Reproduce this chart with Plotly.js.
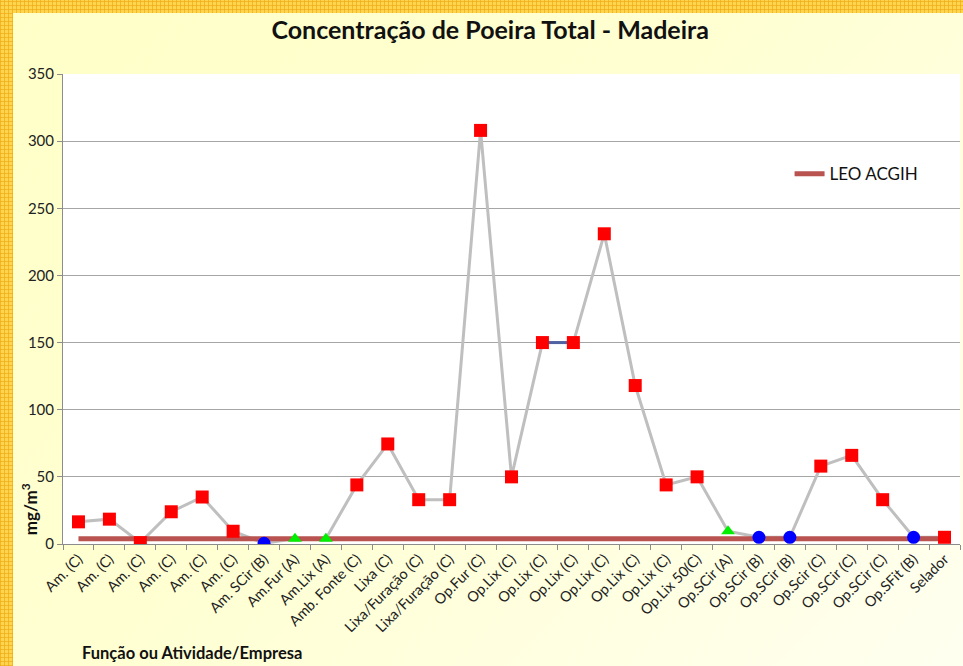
<!DOCTYPE html>
<html>
<head>
<meta charset="utf-8">
<script src="https://cdn.plot.ly/plotly-3.0.1.min.js"></script>
<style>
  html, body { margin:0; padding:0; }
  body { width:963px; height:666px; overflow:hidden; position:relative;
    background-color:#ffd54f;
    background-image:
      repeating-linear-gradient(0deg, rgba(240,170,20,0.7) 0 1px, transparent 1px 4px),
      repeating-linear-gradient(90deg, rgba(240,170,20,0.7) 0 1px, transparent 1px 4px);
  }
  #bg { position:absolute; left:13px; top:13px; right:0; bottom:0;
    background: linear-gradient(135deg, #ffffc8 0%, #ffffd2 45%, #fffff0 100%); }
  #chart { position:absolute; left:0; top:0; width:963px; height:666px; }
</style>
</head>
<body>
<div id="bg"></div>
<div id="chart"></div>
<script>
const labels = ["Am. (C)","Am. (C)","Am. (C)","Am. (C)","Am. (C)","Am. (C)","Am. SCir (B)","Am.Fur (A)","Am.Lix (A)","Amb. Fonte (C)","Lixa (C)","Lixa/Furação (C)","Lixa/Furação (C)","Op.Fur (C)","Op.Lix (C)","Op.Lix (C)","Op.Lix (C)","Op.Lix (C)","Op.Lix (C)","Op.Lix (C)","Op.Lix 50(C)","Op.SCir (A)","Op.SCir (B)","Op.SCir (B)","Op.Scir (C)","Op.SCir (C)","Op.SCir (C)","Op.SFit (B)","Selador"];
const values = [16.5,18.5,1,24,35,9.5,0.5,4,4,44,74.5,33,33,308,50,150,150,231,118,44,50,9.5,5,5,58,66,33,5,5];
const groups = ["C","C","C","C","C","C","B","A","A","C","C","C","C","C","C","C","C","C","C","C","C","A","B","B","C","C","C","B","C"];
const leoValue = 4;

const idx = labels.map((_, i) => i);
function pick(g) {
  const xs = [], ys = [];
  idx.forEach(i => { if (groups[i] === g) { xs.push(i); ys.push(values[i]); } });
  return {xs, ys};
}
const C = pick("C"), B = pick("B"), A = pick("A");
// blue connector between the two equal Op.Lix values
const segX = [15, 16], segY = [values[15], values[16]];

const traces = [
  {x: idx, y: values, mode: 'lines', line: {color: '#bfbfbf', width: 3}, showlegend: false, hoverinfo: 'skip'},
  {x: segX, y: segY, mode: 'lines', line: {color: '#4f61a0', width: 3}, showlegend: false},
  {x: idx, y: idx.map(() => leoValue), mode: 'lines', name: 'LEO ACGIH', line: {color: '#b9534f', width: 5}, showlegend: true},
  {x: C.xs, y: C.ys, mode: 'markers', marker: {symbol: 'square', size: 13, color: '#ff0000'}, showlegend: false},
  {x: B.xs, y: B.ys, mode: 'markers', marker: {symbol: 'circle', size: 13, color: '#0000ff'}, showlegend: false},
  {x: A.xs, y: A.ys, mode: 'markers', marker: {symbol: 'triangle-up', size: 12, color: '#00ee00'}, showlegend: false}
];

const layout = {
  width: 963, height: 666,
  margin: {l: 63, r: 3, t: 74, b: 122},
  paper_bgcolor: 'rgba(0,0,0,0)',
  plot_bgcolor: '#ffffff',
  font: {family: 'Lato, "Open Sans", sans-serif', color: '#222', size: 14},
  title: {text: '<b>Concentração de Poeira Total - Madeira</b>', font: {size: 25, color: '#111'},
          x: 0.509, xref: 'container', xanchor: 'center', y: 0.955, yref: 'container', yanchor: 'middle'},
  xaxis: {
    range: [-0.5, 28.5], tickmode: 'array', tickvals: idx, ticktext: labels,
    tickangle: -45, ticks: '', showgrid: false, zeroline: false,
    showline: true, linecolor: '#8c8c8c', linewidth: 1,
    tickfont: {size: 14.5, color: '#222'},
    minor: {tickmode: 'linear', tick0: -0.5, dtick: 1, ticks: 'outside', ticklen: 5, tickcolor: '#8c8c8c', showgrid: false}
  },
  yaxis: {
    range: [0, 350], dtick: 50, tick0: 0, showgrid: true, gridcolor: '#a6a6a6', gridwidth: 1,
    zeroline: false, showline: true, linecolor: '#8c8c8c', linewidth: 1,
    ticks: 'outside', ticklen: 5, tickcolor: '#8c8c8c',
    tickfont: {size: 15, color: '#222'}
  },
  legend: {x: 0.81, xanchor: 'left', y: 0.787, yanchor: 'middle', bgcolor: 'rgba(0,0,0,0)',
           font: {size: 17, color: '#111'}},
  annotations: [
    {text: '<b>mg/m<sup>3</sup></b>', xref: 'paper', yref: 'paper', x: 0, y: 0.074, xshift: -34,
     xanchor: 'center', yanchor: 'middle', textangle: -90, showarrow: false, font: {size: 17, color: '#111'}},
    {text: '<b>Função ou Atividade/Empresa</b>', xref: 'paper', yref: 'paper', x: 0.019, y: -0.232,
     xanchor: 'left', yanchor: 'middle', showarrow: false, font: {size: 16.5, color: '#111'}}
  ]
};

Plotly.newPlot('chart', traces, layout, {displayModeBar: false, staticPlot: true});
</script>
</body>
</html>
